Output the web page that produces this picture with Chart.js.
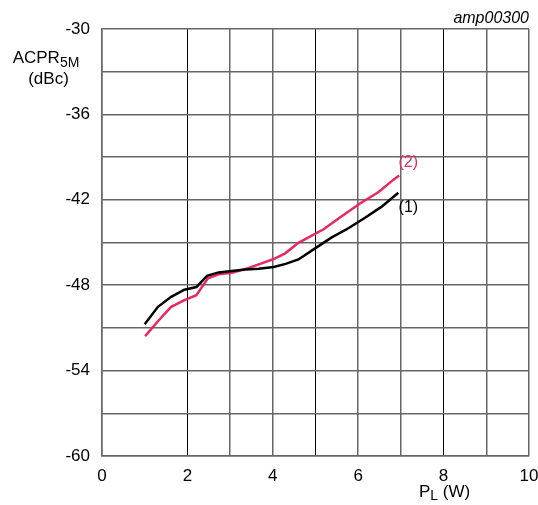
<!DOCTYPE html>
<html>
<head>
<meta charset="utf-8">
<script src="https://cdn.jsdelivr.net/npm/chart.js@4"></script>
<style>
html,body{margin:0;padding:0;background:#fff;}
#wrap{width:538px;height:505px;position:relative;}
</style>
</head>
<body>
<div id="wrap"><canvas id="c" width="538" height="505"></canvas></div>
<script>
// Data
const curve1 = [[1.0,-50.74],[1.31,-49.52],[1.62,-48.82],[1.93,-48.32],[2.21,-48.13],[2.46,-47.34],[2.73,-47.1],[3.04,-47.0],[3.35,-46.89],[3.67,-46.85],[4.02,-46.72],[4.3,-46.5],[4.6,-46.19],[4.99,-45.41],[5.38,-44.64],[5.77,-44.0],[6.16,-43.26],[6.55,-42.48],[6.94,-41.5]];
const curve2 = [[1.01,-51.58],[1.33,-50.46],[1.62,-49.52],[1.93,-49.05],[2.21,-48.7],[2.48,-47.52],[2.73,-47.24],[3.04,-47.13],[3.35,-46.87],[3.67,-46.54],[4.02,-46.16],[4.29,-45.76],[4.6,-45.02],[5.19,-44.07],[5.58,-43.23],[6.05,-42.24],[6.47,-41.47],[6.82,-40.6],[6.96,-40.3]];
const curveLabels = ['(1)','(2)'];
const xTickLabels = [0,2,4,6,8,10];
const yTickLabels = [-30,-36,-42,-48,-54,-60];

const FONT = '"Liberation Sans", Arial, sans-serif';
const RED = '#e8285e';

const textPlugin = {
  id: 'texts',
  afterDraw(chart) {
    const ctx = chart.ctx;
    const xs = chart.scales.x, ys = chart.scales.y;
    ctx.save();
    ctx.fillStyle = '#000';
    ctx.textBaseline = 'alphabetic';
    // amp code
    ctx.font = 'italic 16px ' + FONT;
    ctx.textAlign = 'right';
    ctx.fillText('amp00300', 529, 23);
    // y title
    ctx.font = '17px ' + FONT;
    ctx.textAlign = 'left';
    const w1 = ctx.measureText('ACPR').width;
    ctx.font = '14px ' + FONT;
    const w2 = ctx.measureText('5M').width;
    const startX = 46 - (w1 + w2) / 2;
    ctx.font = '17px ' + FONT;
    ctx.fillText('ACPR', startX, 63);
    ctx.font = '14px ' + FONT;
    ctx.fillText('5M', startX + w1, 67);
    ctx.font = '17px ' + FONT;
    ctx.textAlign = 'center';
    ctx.fillText('(dBc)', 48.5, 84);
    // x title
    ctx.textAlign = 'left';
    ctx.font = '17px ' + FONT;
    const pw = ctx.measureText('P').width;
    ctx.fillText('P', 419, 497);
    ctx.font = '14px ' + FONT;
    const lw = ctx.measureText('L').width;
    ctx.fillText('L', 419 + pw, 500);
    ctx.font = '17px ' + FONT;
    ctx.fillText(' (W)', 419 + pw + lw, 497);
    // curve labels
    ctx.font = '16px ' + FONT;
    ctx.textAlign = 'center';
    ctx.textBaseline = 'middle';
    const l1 = curve1[curve1.length - 1], l2 = curve2[curve2.length - 1];
    ctx.fillStyle = '#000';
    ctx.fillText(curveLabels[0], xs.getPixelForValue(l1[0]) + 10, ys.getPixelForValue(l1[1]) + 15);
    ctx.fillStyle = RED;
    ctx.fillText(curveLabels[1], xs.getPixelForValue(l2[0]) + 9, ys.getPixelForValue(l2[1]) - 13);
    ctx.restore();
  }
};

new Chart(document.getElementById('c'), {
  type: 'scatter',
  data: {
    datasets: [
      {label: curveLabels[0], data: curve1.map(p => ({x: p[0], y: p[1]})), showLine: true, borderColor: '#000', borderWidth: 2.5, pointRadius: 0, tension: 0},
      {label: curveLabels[1], data: curve2.map(p => ({x: p[0], y: p[1]})), showLine: true, borderColor: RED, borderWidth: 2.5, pointRadius: 0, tension: 0}
    ]
  },
  options: {
    responsive: false,
    animation: false,
    layout: {padding: {left: 0, right: 9, top: 29, bottom: 0}},
    plugins: {legend: {display: false}, tooltip: {enabled: false}},
    scales: {
      x: {
        type: 'linear', min: 0, max: 10,
        afterFit(s) { s.height = 49; s.paddingLeft = 0; s.paddingRight = 0; },
        ticks: {
          stepSize: 1, autoSkip: false, maxRotation: 0, padding: 10,
          color: '#000', font: {family: FONT, size: 17},
          callback: v => xTickLabels.includes(v) ? String(v) : ''
        },
        grid: {
          drawTicks: false,
          color: c => (c.tick && c.tick.value === 1) ? 'rgba(0,0,0,0)' : ([2,5,8].includes(c.tick && c.tick.value) ? '#000' : '#666'),
          lineWidth: c => ([2,5,8].includes(c.tick && c.tick.value) ? 1 : 1.5)
        },
        border: {color: '#666', width: 1.5}
      },
      y: {
        type: 'linear', min: -60, max: -30,
        afterFit(s) { s.width = 102; s.paddingTop = 0; s.paddingBottom = 0; },
        ticks: {
          stepSize: 3, autoSkip: false, padding: 12,
          color: '#000', font: {family: FONT, size: 17},
          callback: v => yTickLabels.includes(v) ? String(v) : ''
        },
        grid: {drawTicks: false, color: '#666', lineWidth: 1.5},
        border: {color: '#666', width: 1.5}
      }
    }
  },
  plugins: [textPlugin]
});
</script>
</body>
</html>
